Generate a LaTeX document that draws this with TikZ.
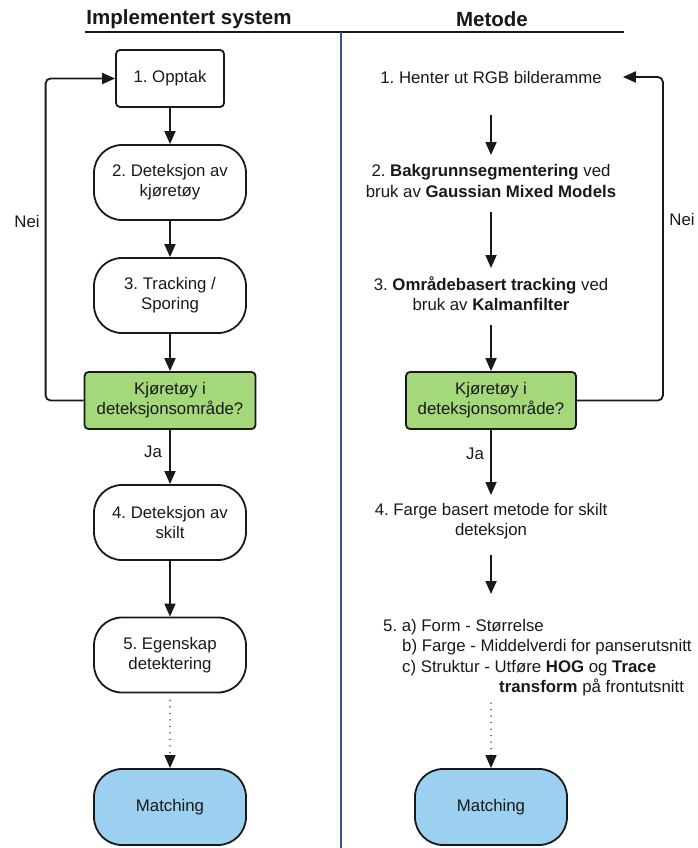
\documentclass[tikz,border=0pt]{standalone}
\usepackage{fontspec}
\setmainfont{Liberation Sans}
\usetikzlibrary{arrows.meta,calc}
\definecolor{decgreen}{RGB}{164,216,122}
\definecolor{matchblue}{RGB}{155,208,240}
\definecolor{divider}{RGB}{52,88,130}
\definecolor{ink}{RGB}{25,25,25}
\frenchspacing

\begin{document}
\begin{tikzpicture}[x=1pt,y=-1pt,
  base/.style={font=\fontsize{16.8}{20.3}\selectfont, text=ink, align=center, inner sep=0pt},
  title/.style={font=\fontsize{20.5}{24}\selectfont\bfseries, text=ink, inner sep=0pt},
  procbox/.style={base, draw=ink, line width=1.8pt, minimum width=108pt, minimum height=57pt, rounded corners=4pt},
  stadium/.style={base, draw=ink, line width=1.8pt, minimum width=152pt, minimum height=75pt, rounded corners=28pt},
  decision/.style={base, draw=ink, fill=decgreen, line width=1.8pt, minimum width=171pt, minimum height=57pt, rounded corners=4pt},
  endbox/.style={stadium, fill=matchblue, minimum height=76pt},
  arr/.style={draw=ink, line width=1.8pt, -{Triangle[length=13pt,width=11pt]}},
  dotarr/.style={draw=ink, line width=1.5pt, line cap=round, dash pattern=on 0pt off 6.5pt, -{Triangle[length=13pt,width=11pt]}},
  lbl/.style={base}
]
\useasboundingbox (0,0) rectangle (697,848);

% column headings and separators
\node[title] (h1) at (189,19) {Implementert system};
\node[title] (h2) at (492,19) {Metode};
\coordinate (ul) at (85,32);
\coordinate (ur) at (624,32);
\draw[line width=1.4pt, ink] (ul) -- (ur);
\coordinate (dt) at (341,32);
\coordinate (db) at (341,848);
\draw[line width=1.4pt, divider] (dt) -- (db);

% implemented system
\node[procbox] (b1) at (170,78.5) {1. Opptak};
\node[stadium] (b2) at (170,182.5) {2. Deteksjon av\\kjøretøy};
\node[stadium] (b3) at (170,295.5) {3. Tracking /\\Sporing};
\node[decision] (g1) at (170,400.5) {Kjøretøy i\\deteksjonsområde?};
\node[stadium] (b4) at (170,522.5) {4. Deteksjon av\\skilt};
\node[stadium] (b5) at (170,655) {5. Egenskap\\detektering};
\node[endbox] (m1) at (170,807) {Matching};

\draw[arr] (b1) -- (b2);
\draw[arr] (b2) -- (b3);
\draw[arr] (b3) -- (g1);
\draw[arr] (g1) -- (b4);
\draw[arr] (b4) -- (b5);
\draw[dotarr] ([yshift=-7pt]b5.south) -- (m1.north);
\draw[arr, rounded corners=5pt] (g1.west) -- ++(-38,0) |- (b1.west);

\node[lbl] (nei1) at (27,221) {Nei};
\node[lbl] (ja1) at (153,452) {Ja};

% method
\node[base] (t1) at (491,77) {1. Henter ut RGB bilderamme};
\node[base] (t2) at (491,181) {2. \textbf{Bakgrunnsegmentering} ved\\bruk av \textbf{Gaussian Mixed Models}};
\node[base] (t3) at (491,294) {3. \textbf{Områdebasert tracking} ved\\bruk av \textbf{Kalmanfilter}};
\node[decision, minimum width=170pt] (g2) at (491,400.5) {Kjøretøy i\\deteksjonsområde?};
\node[base] (t4) at (491,521) {4. Farge basert metode for skilt\\deteksjon};
\node[base, align=left, anchor=west] (t5) at (383,657.5) {5. a) Form - Størrelse\\
\hspace*{19pt}b) Farge - Middelverdi for panserutsnitt\\
\hspace*{19pt}c) Struktur - Utføre \textbf{HOG} og \textbf{Trace}\\
\hspace*{116pt}\textbf{transform} på frontutsnitt};
\node[endbox] (m2) at (491,807) {Matching};

\draw[arr] ([yshift=-38pt]t1.center) -- ([yshift=26pt]t2.center);
\draw[arr] ([yshift=-31pt]t2.center) -- ([yshift=26pt]t3.center);
\draw[arr] ([yshift=-31pt]t3.center) -- (g2.north);
\draw[arr] (g2.south) -- ([yshift=26pt]t4.center);
\draw[arr] ([yshift=-34pt]t4.center) -- ([xshift=108pt,yshift=63.5pt]t5.west);
\draw[dotarr] ([xshift=108pt,yshift=-45.5pt]t5.west) -- (m2.north);
\draw[arr, rounded corners=5pt] (g2.east) -- ++(86,0) |- ([xshift=21pt]t1.east);

\node[lbl] (nei2) at (682,219) {Nei};
\node[lbl] (ja2) at (475,454) {Ja};
\end{tikzpicture}
\end{document}
